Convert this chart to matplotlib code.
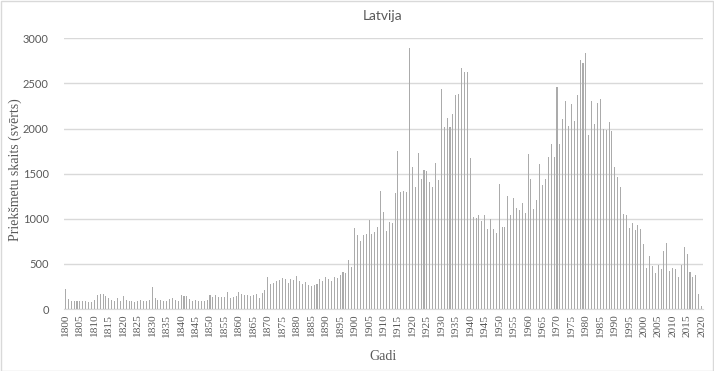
'''
Latvija: priekšmetu skaits (svērts) pa gadiem, 1800-2020
'''
import numpy as np
import matplotlib
matplotlib.use('Agg')
import matplotlib.pyplot as plt
from matplotlib.patches import Rectangle

# Years and values
years = list(range(1800, 2021))

values_1800s = [
    225, 114, 92, 92, 92, 92, 92, 92, 81, 81,        # 1800-1809
    103, 159, 170, 170, 148, 126, 103, 92, 126, 92,  # 1810-1819
    148, 103, 92, 92, 81, 92, 103, 92, 92, 103,      # 1820-1829
    247, 126, 103, 103, 92, 92, 114, 126, 103, 92,   # 1830-1839
    159, 148, 148, 114, 92, 103, 92, 92, 92, 103,    # 1840-1849
    159, 137, 155, 137, 137, 137, 189, 126, 137, 148,  # 1850-1859
    189, 167, 155, 155, 144, 155, 163, 118, 174, 211,  # 1860-1869
    355, 278, 289, 307, 322, 344, 333, 289, 333, 322,  # 1870-1879
    363, 311, 278, 300, 270, 255, 270, 278, 329, 307,  # 1880-1889
    352, 333, 307, 352, 344, 374, 411, 400, 540, 466,  # 1890-1899
]
values_1900s = [
    899, 825, 759, 825, 836, 988, 836, 855, 914, 1313,        # 1900-1909
    1077, 866, 966, 958, 1288, 1754, 1299, 1310, 1299, 2897,  # 1910-1919
    1576, 1354, 1732, 1443, 1543, 1528, 1410, 1354, 1621, 1432,  # 1920-1929
    2442, 2020, 2120, 2020, 2165, 2375, 2387, 2675, 2631, 2631,  # 1930-1939
    1676, 1021, 1006, 1043, 977, 1043, 888, 999, 888, 844,     # 1940-1949
    1388, 910, 910, 1254, 1043, 1232, 1121, 1099, 1177, 1066,  # 1950-1959
    1721, 1443, 1110, 1210, 1610, 1376, 1443, 1680, 1832, 1687,  # 1960-1969
    2457, 1832, 2109, 2309, 2031, 2275, 2087, 2375, 2764, 2731,  # 1970-1979
    2842, 1931, 2309, 2054, 2287, 2331, 1998, 1987, 2076, 1976,  # 1980-1989
    1576, 1465, 1354, 1054, 1043, 899, 955, 877, 932, 888,     # 1990-1999
]
values_2000s = [
    721, 455, 588, 477, 400, 488, 444, 644, 733, 422,  # 2000-2009
    455, 444, 355, 488, 688, 611, 411, 355, 377, 166,  # 2010-2019
    33,                                                # 2020
]
values = values_1800s + values_1900s + values_2000s

tick_labels = [str(y) if y % 5 == 0 else '' for y in years]

title = 'Latvija'
y_title = 'Priekšmetu skaits (svērts)'
x_title = 'Gadi'

sans = ['Lato', 'DejaVu Sans']
serif = ['Liberation Serif', 'DejaVu Serif']
text_col = '#595959'
grid_col = '#D9D9D9'

fig = plt.figure(figsize=(7.14, 3.71), dpi=100)
ax = fig.add_axes([64 / 714, 62 / 371, 639 / 714, 270.7 / 371])

x = np.arange(len(years))
ax.bar(x, values, width=0.36, color='#ABABAB', zorder=2)

ax.set_xlim(-0.5, len(years) - 0.5)
ax.set_ylim(0, 3000)
ax.set_yticks(range(0, 3001, 500))
ax.yaxis.grid(True, color=grid_col, linewidth=1, zorder=0)
ax.set_axisbelow(True)

ax.set_xticks(x)
ax.set_xticklabels(tick_labels, rotation=90, family=serif, fontsize=8.2, color=text_col)
for lab in ax.get_yticklabels():
    lab.set_family(sans)
    lab.set_fontsize(8)
    lab.set_color(text_col)
ax.tick_params(axis='both', length=0)
ax.tick_params(axis='x', pad=4)
ax.tick_params(axis='y', pad=11)

for side in ['top', 'right', 'left']:
    ax.spines[side].set_visible(False)
ax.spines['bottom'].set_color(grid_col)

fig.text(383 / 714, 1 - 16 / 371, title, ha='center', va='center',
         family=sans, fontsize=10, color=text_col)
fig.text(15 / 714, 1 - 170 / 371, y_title, ha='center', va='center', rotation=90,
         family=serif, fontsize=10, color=text_col)
fig.text(383 / 714, 1 - 357 / 371, x_title, ha='center', va='center',
         family=serif, fontsize=10, color=text_col)

# chart area border
fig.patches.append(Rectangle((0.5 / 714, 0.5 / 371), 712.5 / 714, 369.5 / 371,
                             transform=fig.transFigure, fill=False,
                             edgecolor=grid_col, linewidth=1))

fig.savefig('out.png', dpi=100)
